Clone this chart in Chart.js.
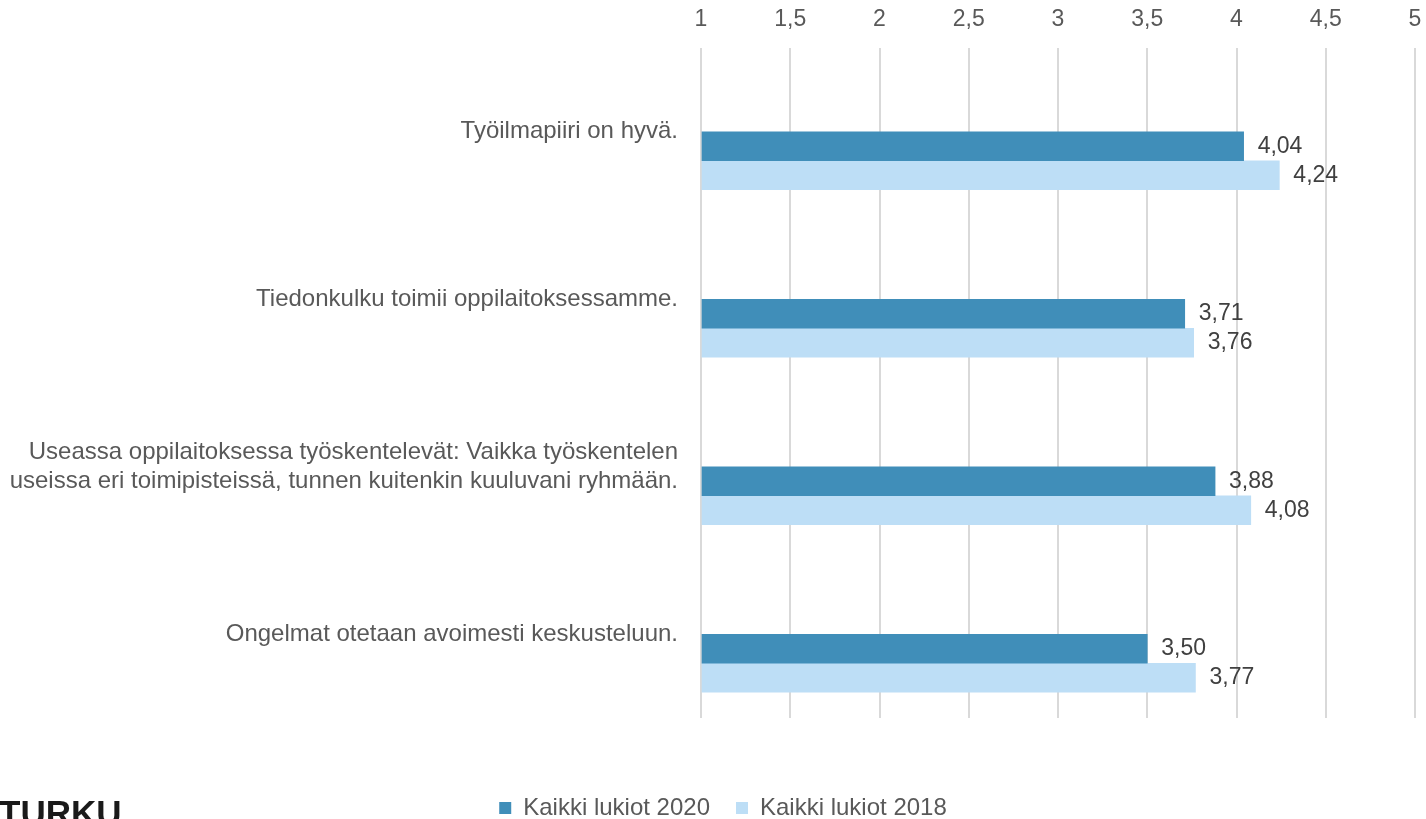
<!DOCTYPE html>
<html lang="fi">
<head>
<meta charset="utf-8">
<title>Kaikki lukiot 2020 / 2018</title>
<script src="https://cdn.jsdelivr.net/npm/chart.js@4"></script>
<style>
  html, body { margin: 0; padding: 0; background: #fff; }
  #wrap { position: relative; width: 1426px; height: 819px; overflow: hidden; }
  #logo {
    position: absolute; left: -1px; top: 795px;
    font: bold 35px "Liberation Sans", Arial, sans-serif;
    line-height: 35px; color: #1a1a1a;
  }
</style>
</head>
<body>
<div id="wrap">
  <canvas id="chart"></canvas>
  <div id="logo">TURKU</div>
</div>
<script>
const categories = [
  "Työilmapiiri on hyvä.",
  "Tiedonkulku toimii oppilaitoksessamme.",
  ["Useassa oppilaitoksessa työskentelevät: Vaikka työskentelen",
   "useissa eri toimipisteissä, tunnen kuitenkin kuuluvani ryhmään."],
  "Ongelmat otetaan avoimesti keskusteluun."
];
const seriesNames = ["Kaikki lukiot 2020", "Kaikki lukiot 2018"];
const lukiot2020 = [4.04, 3.71, 3.88, 3.50];
const lukiot2018 = [4.24, 3.76, 4.08, 3.77];
// two empty series sit above the visible bars in every group
const emptySlots = [null, null, null, null];
const axisMin = 1;
const axisMax = 5;
const axisStep = 0.5;

const fontFamily = '"Liberation Sans", Arial, sans-serif';
Chart.defaults.font.family = fontFamily;

const fmt = (v) => String(v).replace(".", ",");

// value labels to the right of each bar
const valueLabels = {
  id: "valueLabels",
  afterDatasetsDraw(chart) {
    const ctx = chart.ctx;
    ctx.save();
    ctx.font = "23px " + fontFamily;
    ctx.fillStyle = "#404040";
    ctx.textAlign = "left";
    ctx.textBaseline = "middle";
    chart.data.datasets.forEach((ds, i) => {
      if (!ds.label) return;
      chart.getDatasetMeta(i).data.forEach((bar, j) => {
        const v = ds.data[j];
        if (v == null) return;
        ctx.fillText(v.toFixed(2).replace(".", ","), bar.x + 14, bar.y);
      });
    });
    ctx.restore();
  },
};

// nudge the legend a little right of the canvas centre
const legendShift = {
  id: "legendShift",
  afterLayout(chart) {
    chart.legend.left += 6;
    chart.legend.right += 6;
  },
};

const barCommon = { barThickness: 29, base: axisMin, borderWidth: 0 };

new Chart(document.getElementById("chart").getContext("2d"), {
  type: "bar",
  data: {
    labels: categories,
    datasets: [
      { label: "", data: emptySlots, backgroundColor: "rgba(0,0,0,0)", ...barCommon },
      { label: "", data: emptySlots, backgroundColor: "rgba(0,0,0,0)", ...barCommon },
      { label: seriesNames[0], data: lukiot2020, backgroundColor: "#408EB9", ...barCommon },
      { label: seriesNames[1], data: lukiot2018, backgroundColor: "#BDDEF6", ...barCommon },
    ],
  },
  options: {
    indexAxis: "y",
    responsive: true,
    maintainAspectRatio: false,
    animation: false,
    layout: { padding: { left: 8, right: 0, top: 0, bottom: 0 } },
    scales: {
      x: {
        type: "linear",
        position: "top",
        min: axisMin,
        max: axisMax,
        ticks: {
          stepSize: axisStep,
          padding: 14.5,
          color: "#595959",
          font: { size: 23 },
          callback: (v) => fmt(v),
        },
        grid: { color: "#d9d9d9", lineWidth: 2, drawTicks: false },
        border: { display: false },
        afterFit: (s) => {
          s.height = 48;
          s.paddingRight = 11;
          s.paddingLeft = 0;
        },
      },
      y: {
        ticks: { color: "#595959", font: { size: 24 }, padding: 23 },
        grid: { display: false, drawTicks: false },
        border: { display: false },
        afterFit: (s) => { s.width = 693; },
      },
    },
    plugins: {
      tooltip: { enabled: false },
      legend: {
        position: "bottom",
        maxHeight: 101,
        // empty title only makes room between plot and legend
        title: { display: true, text: "", font: { size: 12 }, padding: { top: 0, bottom: 37.6 } },
        labels: {
          boxWidth: 12,
          boxHeight: 12,
          padding: 26,
          color: "#595959",
          font: { size: 24 },
          filter: (item) => item.text !== "",
        },
      },
    },
  },
  plugins: [valueLabels, legendShift],
});
</script>
</body>
</html>
